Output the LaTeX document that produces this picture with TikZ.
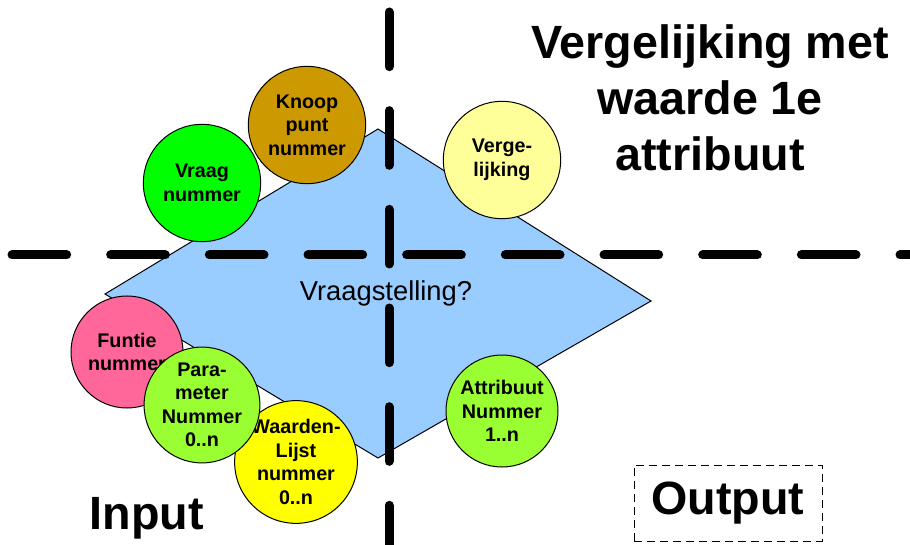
\documentclass[tikz,border=0pt]{standalone}
\usepackage{fontspec}
\setmainfont{Liberation Sans}
\usetikzlibrary{positioning}

\definecolor{vlakClr}{RGB}{153,204,255}
\definecolor{knoopClr}{RGB}{204,153,0}
\definecolor{vraagClr}{RGB}{0,255,0}
\definecolor{vergClr}{RGB}{255,255,153}
\definecolor{funtieClr}{RGB}{255,102,153}
\definecolor{paramClr}{RGB}{153,255,51}
\definecolor{waardenClr}{RGB}{255,255,0}

\tikzset{every picture/.style={line width=0.75pt}}
\tikzset{
  bubble/.style={circle, draw=black, line width=0.75pt, minimum size=88pt, inner sep=0pt,
    align=center, font=\bfseries\fontsize{14.8}{17.6}\selectfont},
  kruislijn/.style={line width=6.75pt, line cap=round, dash pattern=on 41pt off 33pt},
  grootlabel/.style={font=\bfseries\fontsize{35}{42}\selectfont, align=center}
}

\begin{document}
\begin{tikzpicture}[x=0.75pt,y=0.75pt,yscale=-1,xscale=1]
\path[use as bounding box] (0,0) rectangle (910,545);

%Shape: Diamond [id:vraagvlak]
\coordinate (vlakL) at (105,294);
\coordinate (vlakT) at (378,129);
\coordinate (vlakR) at (651,301);
\coordinate (vlakB) at (378,458);
\draw [fill=vlakClr] (vlakL) -- (vlakT) -- (vlakR) -- (vlakB) -- cycle ;

%Shape: Circle [id:knoop]
\draw (307,125) node [bubble, fill=knoopClr] (knoop) {Knoop\\punt\\nummer};
%Shape: Circle [id:vraag]
\draw (202,183) node [bubble, fill=vraagClr] (vraag) {Vraag\\nummer};
%Shape: Circle [id:verg]
\draw (502,160) node [bubble, fill=vergClr] (verg) {Verge-\\lijking};
%Shape: Circle [id:funtie]
\draw (127,352) node [bubble, minimum size=84pt, fill=funtieClr] (funtie) {Funtie\\nummer};
%Shape: Circle [id:waarden]
\draw (296,462) node [bubble, minimum size=84pt, fill=waardenClr] (waarden) {Waarden-\\Lijst\\nummer\\0..n};
%Shape: Circle [id:param]
\draw (202,405) node [bubble, minimum size=84pt, fill=paramClr] (param) {Para-\\meter\\Nummer\\0..n};
%Shape: Circle [id:attribuut]
\draw (502,411) node [bubble, minimum size=84pt, fill=paramClr] (attribuut) {Attribuut\\Nummer\\1..n};

%Straight Lines [id:horizontaal]
\coordinate (hLinks) at (12,255);
\coordinate (hRechts) at (915,255);
\draw [kruislijn] (hLinks) -- (hRechts) ;
%Straight Lines [id:verticaal]
\coordinate (vBoven) at (389,12);
\coordinate (vOnder) at (389,550);
\draw [kruislijn] (vBoven) -- (vOnder) ;

% Text Node
\draw (386,293) node [font=\fontsize{20.5}{24}\selectfont] (vraagstelling) {Vraagstelling?};
% Text Node
\draw (710,98) node [grootlabel] (titel) {Vergelijking met\\waarde 1e\\attribuut};
% Text Node
\draw (147,518) node [grootlabel] (input) {Input};
% Text Node
\draw (728,503) node [grootlabel, draw, line width=0.75pt, dash pattern=on 6pt off 3.75pt, minimum width=141pt, minimum height=57pt] (output) {Output};

\end{tikzpicture}
\end{document}
